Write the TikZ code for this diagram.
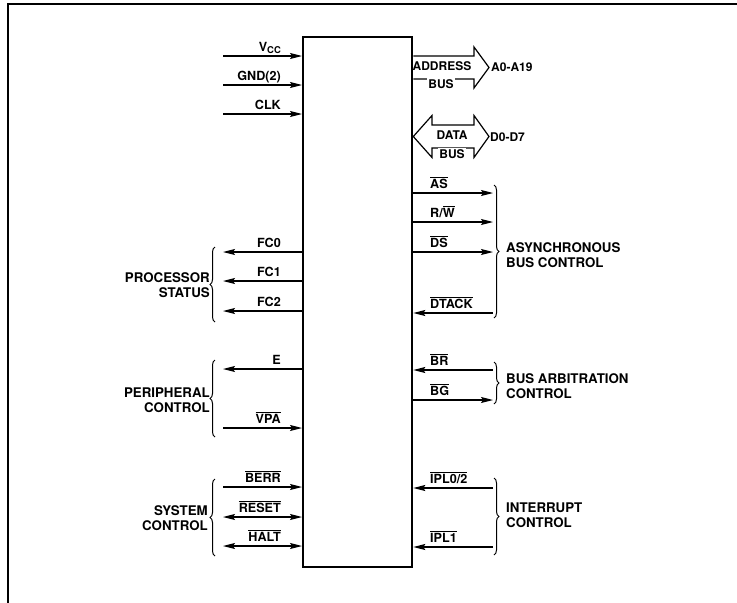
\documentclass[tikz,border=0pt]{standalone}
\usepackage{fontspec}
\setmainfont{TeX Gyre Heros}
\usetikzlibrary{arrows.meta,decorations.pathreplacing}
\newcommand\ovl[1]{$\overline{\mbox{#1}}$}
\begin{document}
\begin{tikzpicture}[x=1pt,y=-1pt,
  >={Stealth[length=12pt,width=6pt,inset=2pt]},
  sig/.style={line width=1.1pt},
  bus/.style={line width=1.2pt},
  lbl/.style={font=\fontsize{12.6}{14}\selectfont\bfseries, inner sep=0pt},
  blbl/.style={font=\fontsize{12}{14}\selectfont\bfseries, inner sep=0pt},
  grp/.style={font=\fontsize{13.3}{15}\selectfont\bfseries, inner sep=0pt},
  brc/.style={decorate, decoration={brace, amplitude=5pt}, line width=1pt},
  frame/.style={line width=1.4pt},
]
\useasboundingbox (0,0) rectangle (737,603);
\draw[frame] (8,603) -- (8,4) -- (737,4);

% chip
\node[draw, line width=2.3pt, minimum width=109pt, minimum height=530pt, inner sep=0pt,
      anchor=north west] (chip) at (302,36) {};

% left signals
\coordinate (vcc) at (223,56);
\coordinate (gnd) at (223,85);
\coordinate (clk) at (223,114);
\coordinate (fc0) at (223,252);
\coordinate (fc1) at (223,281);
\coordinate (fc2) at (223,311);
\coordinate (e)   at (223,369);
\coordinate (vpa) at (223,428);
\coordinate (berr) at (223,487);
\coordinate (reset) at (223,517);
\coordinate (halt) at (223,546);

\draw[sig,->] (vcc) -- (vcc -| chip.west);
\draw[sig,->] (gnd) -- (gnd -| chip.west);
\draw[sig,->] (clk) -- (clk -| chip.west);
\draw[sig,->] (fc0 -| chip.west) -- (fc0);
\draw[sig,->] (fc1 -| chip.west) -- (fc1);
\draw[sig,->] (fc2 -| chip.west) -- (fc2);
\draw[sig,->] (e -| chip.west) -- (e);
\draw[sig,->] (vpa) -- (vpa -| chip.west);
\draw[sig,->] (berr) -- (berr -| chip.west);
\draw[sig,<->] (reset) -- (reset -| chip.west);
\draw[sig,<->] (halt) -- (halt -| chip.west);

\node[lbl, anchor=base east] (lvcc) at (281,51) {V\raisebox{-0.3ex}{\fontsize{9.4}{10}\selectfont CC}};
\node[lbl, anchor=base east] (lgnd) at (281,80) {GND(2)};
\node[lbl, anchor=base east] (lclk) at (281,109) {CLK};
\node[lbl, anchor=base east] (lfc0) at (281,247) {FC0};
\node[lbl, anchor=base east] (lfc1) at (281,276) {FC1};
\node[lbl, anchor=base east] (lfc2) at (281,306) {FC2};
\node[lbl, anchor=base east] (le) at (281,364) {E};
\node[lbl, anchor=base east] (lvpa) at (281,423) {\ovl{VPA}};
\node[lbl, anchor=base east] (lberr) at (281,482) {\ovl{BERR}};
\node[lbl, anchor=base east] (lreset) at (281,512) {\ovl{RESET}};
\node[lbl, anchor=base east] (lhalt) at (281,541) {\ovl{HALT}};

% right signals
\coordinate (as) at (493,193);
\coordinate (rw) at (493,222);
\coordinate (ds) at (493,252);
\coordinate (dtack) at (493,313);
\coordinate (br) at (493,370);
\coordinate (bg) at (493,400);
\coordinate (ipla) at (493,488);
\coordinate (iplb) at (493,547);

\draw[sig,->] (as -| chip.east) -- (as);
\draw[sig,->] (rw -| chip.east) -- (rw);
\draw[sig,->] (ds -| chip.east) -- (ds);
\draw[sig,->] (dtack) -- (dtack -| chip.east);
\draw[sig,->] (br) -- (br -| chip.east);
\draw[sig,->] (bg -| chip.east) -- (bg);
\draw[sig,->] (ipla) -- (ipla -| chip.east);
\draw[sig,->] (iplb) -- (iplb -| chip.east);

\node[lbl, anchor=base west] (las) at (430,188) {\ovl{AS}};
\node[lbl, anchor=base west] (lrw) at (430,217) {R/\ovl{W}};
\node[lbl, anchor=base west] (lds) at (430,247) {\ovl{DS}};
\node[lbl, anchor=base west] (ldtack) at (430,308) {\ovl{DTACK}};
\node[lbl, anchor=base west] (lbr) at (430,365) {\ovl{BR}};
\node[lbl, anchor=base west] (lbg) at (430,395) {\ovl{BG}};
\node[lbl, anchor=base west] (lipla) at (430,483) {\ovl{IPL0/2}};
\node[lbl, anchor=base west] (liplb) at (430,542) {\ovl{IPL1}};

% address bus
\draw[bus] (chip.east |- 0,56) -- (474,56) -- (474,47) -- (489,67.5) -- (474,88) -- (474,79) -- (chip.east |- 0,79);
\node[blbl] (addr) at (442,66.5) {ADDRESS};
\node[blbl, fill=white, inner sep=1.5pt] (abus) at (441,84.5) {BUS};
\node[blbl, anchor=west] (a019) at (491,67.5) {A0-A19};

% data bus
\draw[bus] (chip.east |- 0,136.5) -- (432,115.5) -- (432,125) -- (474,125) -- (474,115.5) -- (489,136.5)
  -- (474,157.5) -- (474,148) -- (432,148) -- (432,157.5) -- cycle;
\node[blbl] (data) at (452,135.5) {DATA};
\node[blbl, fill=white, inner sep=1.5pt] (dbus) at (452,154) {BUS};
\node[blbl, anchor=west] (d07) at (490,137) {D0-D7};

% braces left
\draw[brc] (215,322) -- (215,247);
\draw[brc] (215,437) -- (215,360);
\draw[brc] (215,556) -- (215,479);
\node[grp, anchor=east, align=right] (gproc) at (210,285.5) {PROCESSOR\\STATUS};
\node[grp, anchor=east, align=right] (gper) at (210,400.5) {PERIPHERAL\\CONTROL};
\node[grp, anchor=east, align=right] (gsys) at (208,518) {SYSTEM\\CONTROL};

% braces right
\draw[brc] (494,185) -- (494,318);
\draw[brc] (494,362) -- (494,404);
\draw[brc] (494,478) -- (494,555);
\node[grp, anchor=west, align=left] (gasync) at (506,255) {ASYNCHRONOUS\\BUS CONTROL};
\node[grp, anchor=west, align=left] (garb) at (506,386.5) {BUS ARBITRATION\\CONTROL};
\node[grp, anchor=west, align=left] (gint) at (506,515) {INTERRUPT\\CONTROL};
\end{tikzpicture}
\end{document}
